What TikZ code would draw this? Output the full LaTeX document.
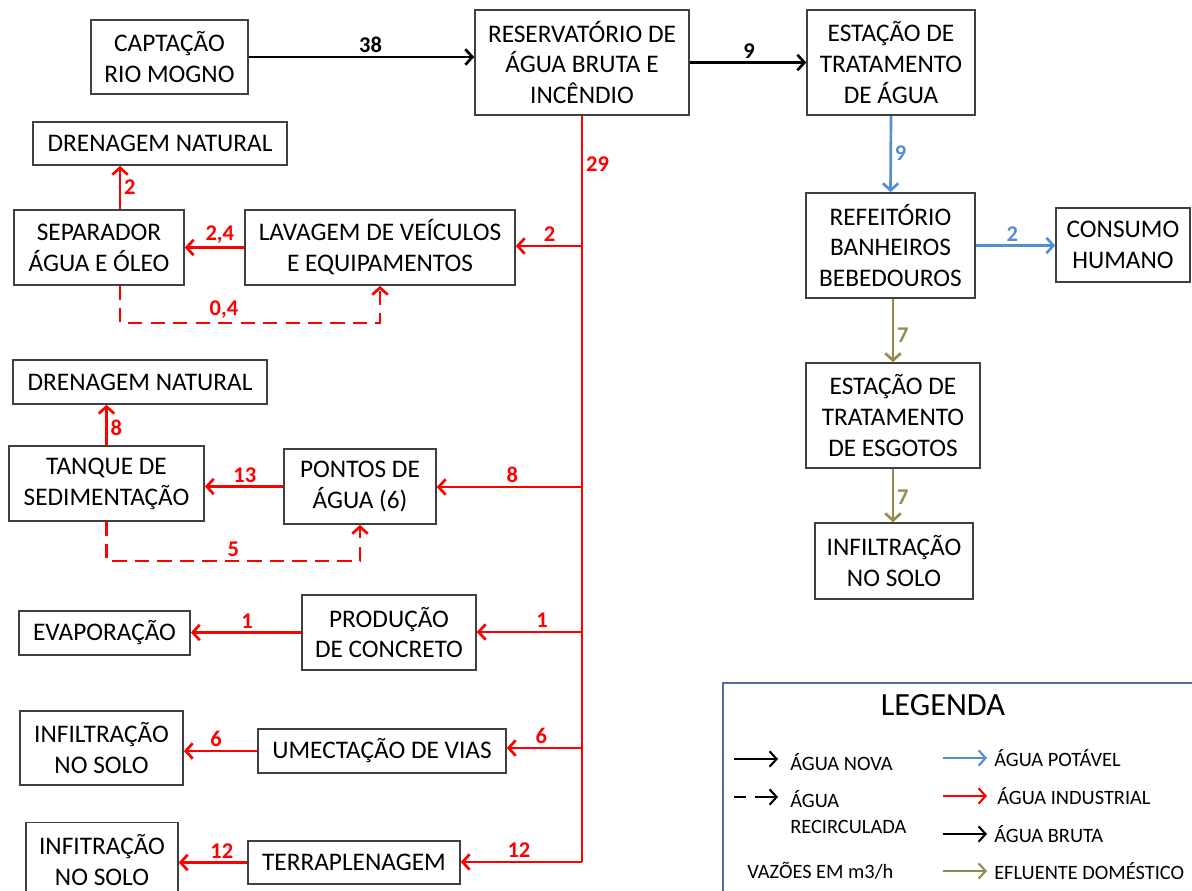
\documentclass[tikz,border=0pt]{standalone}
\usepackage{fontspec}
\setmainfont{Carlito}
\usetikzlibrary{arrows.meta}
\definecolor{boxgray}{RGB}{64,64,64}
\definecolor{industrial}{RGB}{255,0,0}
\definecolor{potavel}{RGB}{85,142,213}
\definecolor{efluente}{RGB}{148,138,84}
\definecolor{legframe}{RGB}{79,110,154}

\tikzset{
  box/.style={draw=boxgray, line width=1.1pt, align=center, inner sep=0pt,
    font=\fontsize{18}{22}\selectfont},
  flow/.style={line width=1.9pt, -{Straight Barb[length=5pt, width=11pt]}},
  recirc/.style={flow, industrial, dash pattern=on 10pt off 6pt},
  num/.style={font=\fontsize{16}{19}\selectfont\bfseries, inner sep=2pt},
  legtxt/.style={font=\fontsize{14.5}{18}\selectfont, align=left, anchor=west, inner sep=0pt}
}

\begin{document}
\begin{tikzpicture}[x=0.025cm, y=-0.025cm]
  \clip (0,0) rectangle (1192,890);

  % linha principal
  \node[box, minimum width=3.93cm, minimum height=1.85cm] (capt) at (169.5,57) {CAPTAÇÃO\\RIO MOGNO};
  \node[box, minimum width=5.35cm, minimum height=2.63cm] (res) at (582,62.5) {RESERVATÓRIO DE\\ÁGUA BRUTA E\\INCÊNDIO};
  \node[box, minimum width=4.2cm, minimum height=2.63cm] (eta) at (891,62.5) {ESTAÇÃO DE\\TRATAMENTO\\DE ÁGUA};
  \node[box, minimum width=4.23cm, minimum height=2.63cm] (ref) at (890.5,245.5) {REFEITÓRIO\\BANHEIROS\\BEBEDOUROS};
  \node[box, minimum width=3.35cm, minimum height=1.85cm] (cons) at (1123,245) {CONSUMO\\HUMANO};
  \node[box, minimum width=4.35cm, minimum height=2.63cm] (ets) at (893,415.5) {ESTAÇÃO DE\\TRATAMENTO\\DE ESGOTOS};
  \node[box, minimum width=3.95cm, minimum height=1.9cm] (inf1) at (894,561) {INFILTRAÇÃO\\NO SOLO};

  % usos de agua industrial
  \node[box, minimum width=6.35cm, minimum height=1.08cm] (dren1) at (160,143.5) {DRENAGEM NATURAL};
  \node[box, minimum width=4.25cm, minimum height=1.88cm] (sep) at (99,247.5) {SEPARADOR\\ÁGUA E ÓLEO};
  \node[box, minimum width=6.75cm, minimum height=1.88cm] (lav) at (380,247.5) {LAVAGEM DE VEÍCULOS\\E EQUIPAMENTOS};
  \node[box, minimum width=6.35cm, minimum height=1.1cm] (dren2) at (140,382) {DRENAGEM NATURAL};
  \node[box, minimum width=4.88cm, minimum height=1.88cm] (tanq) at (106.5,483.5) {TANQUE DE\\SEDIMENTAÇÃO};
  \node[box, minimum width=3.8cm, minimum height=1.88cm] (pont) at (360,486.5) {PONTOS DE\\ÁGUA (6)};
  \node[box, minimum width=4.35cm, minimum height=1.88cm] (prod) at (389,632.5) {PRODUÇÃO\\DE CONCRETO};
  \node[box, minimum width=4.28cm, minimum height=1.1cm] (evap) at (104.5,633) {EVAPORAÇÃO};
  \node[box, minimum width=6.2cm, minimum height=1.1cm] (umec) at (382,751) {UMECTAÇÃO DE VIAS};
  \node[box, minimum width=4.08cm, minimum height=1.85cm] (inf2) at (101.5,748) {INFILTRAÇÃO\\NO SOLO};
  \node[box, minimum width=5.3cm, minimum height=1.08cm] (terr) at (354,862.5) {TERRAPLENAGEM};
  \node[box, minimum width=3.8cm, minimum height=1.88cm] (inf3) at (102,860) {INFITRAÇÃO\\NO SOLO};

  % agua bruta e potavel
  \draw[flow] (capt.east) -- (capt.east -| res.west) node[num, pos=0.54, above] {38};
  \draw[flow] (res.east) -- (eta.west) node[num, pos=0.51, above] {9};
  \draw[flow, potavel] (eta.south) -- (ref.north) node[num, pos=0.49, right] {9};
  \draw[flow, potavel] (ref.east) -- (ref.east -| cons.west) node[num, pos=0.46, above] {2};
  \draw[flow, efluente] (ets.north |- ref.south) -- (ets.north) node[num, pos=0.57, right] {7};
  \draw[flow, efluente] (ets.south) -- (ets.south |- inf1.north) node[num, pos=0.53, right] {7};

  % tronco de agua industrial
  \coordinate (jlav) at (582,246);
  \coordinate (jpon) at (582,487);
  \coordinate (jpro) at (582,632);
  \coordinate (jume) at (582,748);
  \coordinate (jter) at (582,862);
  \draw[industrial, line width=1.9pt] (res.south) -- (jter) node[num, pos=0.064, right] {29};

  \draw[flow, industrial] (jlav) -- (jlav -| lav.east) node[num, pos=0.49, above] {2};
  \draw[flow, industrial] (lav.west) -- (lav.west -| sep.east) node[num, pos=0.41, above] {2,4};
  \draw[flow, industrial] ([xshift=0.525cm]sep.north) -- ([xshift=0.525cm]sep.north |- dren1.south)
    node[num, pos=0.5, right] {2};
  \draw[recirc] ([xshift=0.525cm]sep.south) -- ++(0,37) -| (lav.south) node[num, pos=0.2, above] {0,4};

  \draw[flow, industrial] (jpon) -- (jpon -| pont.east) node[num, pos=0.48, above] {8};
  \draw[flow, industrial] (pont.west) -- (pont.west -| tanq.east) node[num, pos=0.49, above] {13};
  \draw[flow, industrial] (tanq.north) -- (tanq.north |- dren2.south) node[num, pos=0.43, right] {8};
  \draw[recirc] (tanq.south) -- ++(0,39) -| (pont.south) node[num, pos=0.25, above] {5};

  \draw[flow, industrial] (jpro) -- (jpro -| prod.east) node[num, pos=0.38, above] {1};
  \draw[flow, industrial] (prod.west) -- (prod.west -| evap.east) node[num, pos=0.49, above] {1};
  \draw[flow, industrial] (jume) -- (jume -| umec.east) node[num, pos=0.54, above] {6};
  \draw[flow, industrial] (umec.west) -- (umec.west -| inf2.east) node[num, pos=0.56, above] {6};
  \draw[flow, industrial] (jter) -- (jter -| terr.east) node[num, pos=0.52, above] {12};
  \draw[flow, industrial] (terr.west) -- (terr.west -| inf3.east) node[num, pos=0.37, above] {12};

  % legenda
  \draw[legframe, line width=1.2pt] (723,683) rectangle (1215,905);
  \node[font=\fontsize{23}{28}\selectfont] (legtit) at (943,705) {LEGENDA};
  \coordinate (lnova) at (734,759);
  \draw[flow, line width=1.5pt] (lnova) -- ++(44,0);
  \node[legtxt] (tnova) at (790,762) {ÁGUA NOVA};
  \coordinate (lrec) at (734,797);
  \draw[line width=1.5pt] (lrec) -- ++(12,0);
  \draw[flow, line width=1.5pt] ([xshift=0.525cm]lrec) -- ++(23,0);
  \node[legtxt] (trec) at (790,812) {ÁGUA\\RECIRCULADA};
  \node[legtxt] (tvaz) at (747,871) {VAZÕES EM m3/h};
  \foreach \cor/\yy/\xt/\txt in {potavel/758/994/ÁGUA POTÁVEL, industrial/796/997/ÁGUA INDUSTRIAL,
      black/834/994/ÁGUA BRUTA, efluente/871/994/EFLUENTE DOMÉSTICO} {
    \coordinate (l\yy) at (943,\yy);
    \draw[flow, \cor, line width=1.5pt] (l\yy) -- ++(44,0);
    \node[legtxt] (t\yy) at (\xt,\yy) {\txt};
  }
\end{tikzpicture}
\end{document}
